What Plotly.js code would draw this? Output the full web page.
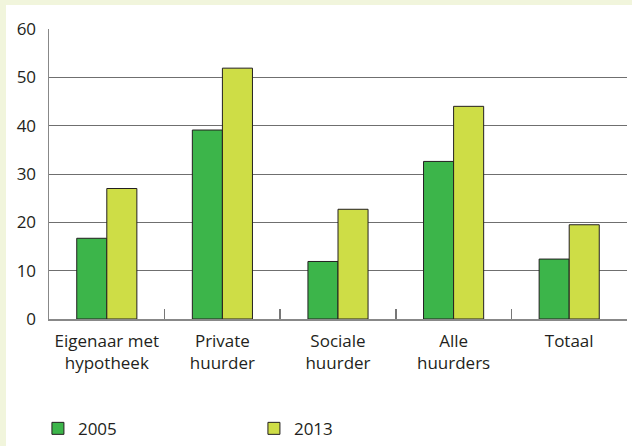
<!DOCTYPE html>
<html>
<head>
<meta charset="utf-8">
<script src="https://cdn.plot.ly/plotly-3.0.1.min.js"></script>
<style>
  html, body { margin: 0; padding: 0; background: #f1f5dc; width: 632px; height: 446px; overflow: hidden; }
  #chart { position: absolute; left: 6px; top: 5px; width: 626px; height: 441px; }
</style>
</head>
<body>
<div id="chart"></div>
<script>
const categories = ["Eigenaar met<br>hypotheek", "Private<br>huurder", "Sociale<br>huurder", "Alle<br>huurders", "Totaal"];
const values2005 = [16.7, 39.1, 11.9, 32.6, 12.4];
const values2013 = [27.0, 51.9, 22.7, 44.0, 19.5];
const seriesNames = ["2005", "2013"];
const yTicks = [0, 10, 20, 30, 40, 50, 60];

const font = { family: "Open Sans, sans-serif", size: 17, color: "#231f20" };

const traces = [
  { type: "bar", name: seriesNames[0], x: categories, y: values2005,
    marker: { color: "#3cb54a", line: { color: "#231f20", width: 1 } } },
  { type: "bar", name: seriesNames[1], x: categories, y: values2013,
    marker: { color: "#cedd46", line: { color: "#231f20", width: 1 } } }
];

const layout = {
  width: 626, height: 441,
  margin: { l: 43, r: 5, t: 24, b: 127, autoexpand: false },
  paper_bgcolor: "#ffffff", plot_bgcolor: "#ffffff",
  font: font,
  barmode: "group", bargap: 0.48, bargroupgap: 0,
  showlegend: true,
  legend: { orientation: "h", xref: "container", x: 0.051, xanchor: "left",
            yref: "container", y: 0.039, yanchor: "middle",
            entrywidth: 171, entrywidthmode: "pixels", font: font, traceorder: "normal" },
  xaxis: {
    type: "category", tickson: "boundaries", ticks: "inside", ticklen: 10,
    tickcolor: "#777", tickwidth: 1.5,
    showline: true, linecolor: "#888", linewidth: 1.5,
    showgrid: false, fixedrange: true, tickfont: font, ticklabelstandoff: 6
  },
  yaxis: {
    range: [0, 60], tickvals: yTicks, ticks: "", showline: true, linecolor: "#888", linewidth: 1.5,
    showgrid: true, gridcolor: "#6f6f6f", gridwidth: 1, zeroline: false,
    ticklabelstandoff: 8, fixedrange: true, tickfont: font
  }
};

Plotly.newPlot("chart", traces, layout, { displayModeBar: false, staticPlot: true });
</script>
</body>
</html>
